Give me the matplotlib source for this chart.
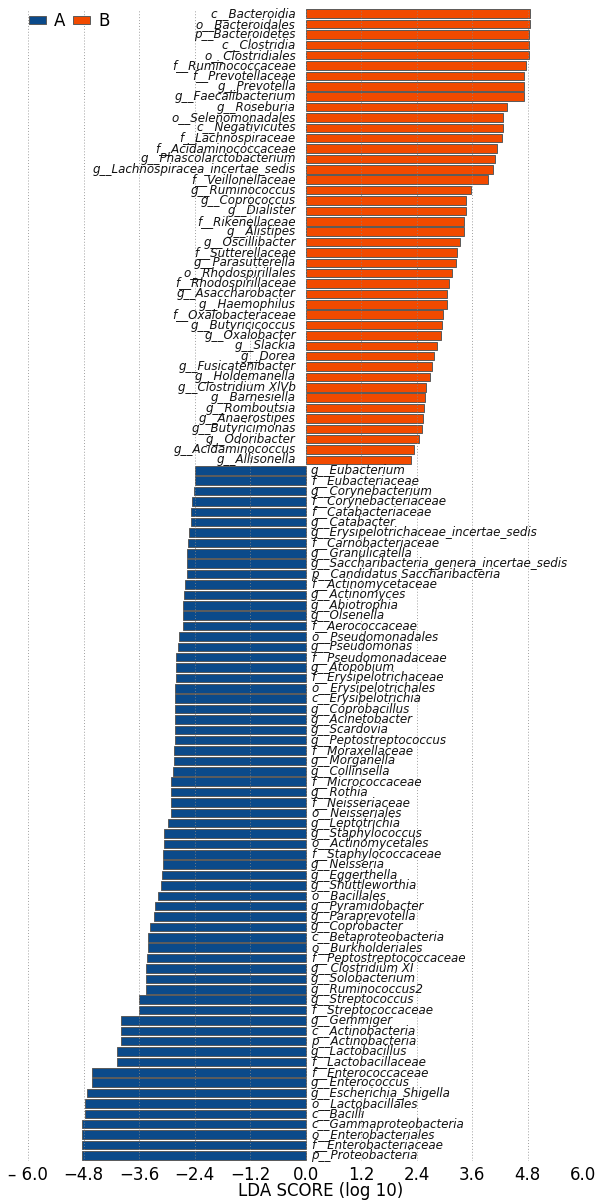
import matplotlib
matplotlib.use("Agg")
import matplotlib.pyplot as plt
from matplotlib.patches import Patch
import matplotlib.transforms as mtransforms

# Group B (positive LDA scores), top to bottom
b_labels = [
    "c__Bacteroidia", "o__Bacteroidales", "p__Bacteroidetes", "c__Clostridia",
    "o__Clostridiales", "f__Ruminococcaceae", "f__Prevotellaceae", "g__Prevotella",
    "g__Faecalibacterium", "g__Roseburia", "o__Selenomonadales", "c__Negativicutes",
    "f__Lachnospiraceae", "f__Acidaminococcaceae", "g__Phascolarctobacterium",
    "g__Lachnospiracea_incertae_sedis", "f__Veillonellaceae", "g__Ruminococcus",
    "g__Coprococcus", "g__Dialister", "f__Rikenellaceae", "g__Alistipes",
    "g__Oscillibacter", "f__Sutterellaceae", "g__Parasutterella", "o__Rhodospirillales",
    "f__Rhodospirillaceae", "g__Asaccharobacter", "g__Haemophilus", "f__Oxalobacteraceae",
    "g__Butyricicoccus", "g__Oxalobacter", "g__Slackia", "g__Dorea",
    "g__Fusicatenibacter", "g__Holdemanella", "g__Clostridium XlVb", "g__Barnesiella",
    "g__Romboutsia", "g__Anaerostipes", "g__Butyricimonas", "g__Odoribacter",
    "g__Acidaminococcus", "g__Allisonella",
]
b_scores = [
    4.85, 4.85, 4.84, 4.83, 4.83, 4.77, 4.73, 4.73, 4.73, 4.36, 4.28, 4.28,
    4.25, 4.13, 4.10, 4.06, 3.94, 3.57, 3.48, 3.47, 3.43, 3.43,
    3.34, 3.28, 3.26, 3.16, 3.11, 3.07, 3.05, 2.97, 2.96, 2.94, 2.85, 2.77,
    2.73, 2.70, 2.61, 2.59, 2.57, 2.53, 2.52, 2.46, 2.34, 2.29,
]

# Group A (negative LDA scores), top to bottom
a_labels = [
    "g__Eubacterium", "f__Eubacteriaceae", "g__Corynebacterium", "f__Corynebacteriaceae",
    "f__Catabacteriaceae", "g__Catabacter", "g__Erysipelotrichaceae_incertae_sedis",
    "f__Carnobacteriaceae", "g__Granulicatella", "g__Saccharibacteria_genera_incertae_sedis",
    "p__Candidatus Saccharibacteria", "f__Actinomycetaceae", "g__Actinomyces",
    "g__Abiotrophia", "g__Olsenella", "f__Aerococcaceae", "o__Pseudomonadales",
    "g__Pseudomonas", "f__Pseudomonadaceae", "g__Atopobium", "f__Erysipelotrichaceae",
    "o__Erysipelotrichales", "c__Erysipelotrichia",
    "g__Coprobacillus", "g__Acinetobacter", "g__Scardovia", "g__Peptostreptococcus",
    "f__Moraxellaceae", "g__Morganella", "g__Collinsella", "f__Micrococcaceae",
    "g__Rothia", "f__Neisseriaceae", "o__Neisseriales", "g__Leptotrichia",
    "g__Staphylococcus", "o__Actinomycetales", "f__Staphylococcaceae", "g__Neisseria",
    "g__Eggerthella", "g__Shuttleworthia", "o__Bacillales", "g__Pyramidobacter",
    "g__Paraprevotella",
    "g__Coprobacter", "c__Betaproteobacteria", "o__Burkholderiales",
    "f__Peptostreptococcaceae", "g__Clostridium XI", "g__Solobacterium",
    "g__Ruminococcus2", "g__Streptococcus", "f__Streptococcaceae", "g__Gemmiger",
    "c__Actinobacteria", "p__Actinobacteria", "g__Lactobacillus", "f__Lactobacillaceae",
    "f__Enterococcaceae", "g__Enterococcus", "g__Escherichia_Shigella",
    "o__Lactobacillales", "c__Bacilli", "c__Gammaproteobacteria",
    "o__Enterobacteriales", "f__Enterobacteriaceae", "p__Proteobacteria",
]
a_scores = [
    -2.38, -2.38, -2.42, -2.45, -2.48, -2.48, -2.52, -2.55, -2.57, -2.57, -2.57,
    -2.61, -2.63, -2.65, -2.65, -2.65, -2.73, -2.76, -2.79, -2.80, -2.81, -2.82, -2.82,
    -2.82, -2.83, -2.83, -2.83, -2.85, -2.85, -2.86, -2.90, -2.91, -2.91, -2.91,
    -2.98, -3.05, -3.07, -3.09, -3.09, -3.11, -3.12, -3.18, -3.26, -3.27,
    -3.37, -3.41, -3.41, -3.42, -3.44, -3.44, -3.45, -3.59, -3.59, -3.99,
    -3.99, -3.99, -4.07, -4.07, -4.62, -4.62, -4.72, -4.76, -4.77, -4.83,
    -4.83, -4.83, -4.83,
]

group_names = ["A", "B"]
xticks = [-6.0, -4.8, -3.6, -2.4, -1.2, 0.0, 1.2, 2.4, 3.6, 4.8, 6.0]
xtick_labels = ["\u2013 6.0", "\u22124.8", "\u22123.6", "\u22122.4", "\u22121.2",
                "0.0", "1.2", "2.4", "3.6", "4.8", "6.0"]

color_a = "#0B4A8A"
color_b = "#F24A00"
edge = "#5a5a5a"

labels = b_labels + a_labels
scores = b_scores + a_scores
colors = [color_b] * len(b_labels) + [color_a] * len(a_labels)
n = len(labels)
ypos = list(range(n))

fig = plt.figure(figsize=(6.0, 12.03), dpi=100)
ax = fig.add_axes([28 / 600, 1 - 1160.5 / 1203, 555 / 600, (1160.5 - 8.5) / 1203])

ax.barh(ypos, scores, height=0.82, color=colors, edgecolor=edge,
        linewidth=0.7, zorder=1)

ax.set_ylim(n - 0.5, -0.5)
ax.set_xlim(-6.0, 6.0)

tr_left = mtransforms.offset_copy(ax.transData, fig=fig, x=-7, y=0, units="points")
tr_right = mtransforms.offset_copy(ax.transData, fig=fig, x=4, y=0, units="points")
for y, lab, s in zip(ypos, labels, scores):
    if s > 0:
        ax.text(0, y, lab, ha="right", va="center", fontsize=8.6, style="italic",
                transform=tr_left, color="#111111")
    else:
        ax.text(0, y, lab, ha="left", va="center", fontsize=8.6, style="italic",
                transform=tr_right, color="#111111")

ax.set_yticks([])
ax.set_xticks(xticks)
ax.set_xticklabels(xtick_labels, fontsize=12)
ax.tick_params(axis="x", length=0, pad=4)
for sp in ax.spines.values():
    sp.set_visible(False)
ax.set_axisbelow(False)
ax.grid(axis="x", linestyle=(0, (1, 2)), color="#888888", linewidth=0.7, alpha=0.8)
ax.set_xlabel("LDA SCORE (log 10)", fontsize=12)
ax.xaxis.set_label_coords((321 - 28) / 555, -22 / 1152)

handles = [Patch(facecolor=color_a, edgecolor=edge, linewidth=0.7),
           Patch(facecolor=color_b, edgecolor=edge, linewidth=0.7)]
fig.legend(handles, group_names, loc="upper left",
           bbox_to_anchor=(29 / 600, 1 - 12 / 1203),
           ncol=2, frameon=False, fontsize=12, handlelength=1.0, handleheight=0.4,
           handletextpad=0.5, columnspacing=0.45, borderpad=0.0, borderaxespad=0.0)

fig.savefig("out.png", dpi=100)
